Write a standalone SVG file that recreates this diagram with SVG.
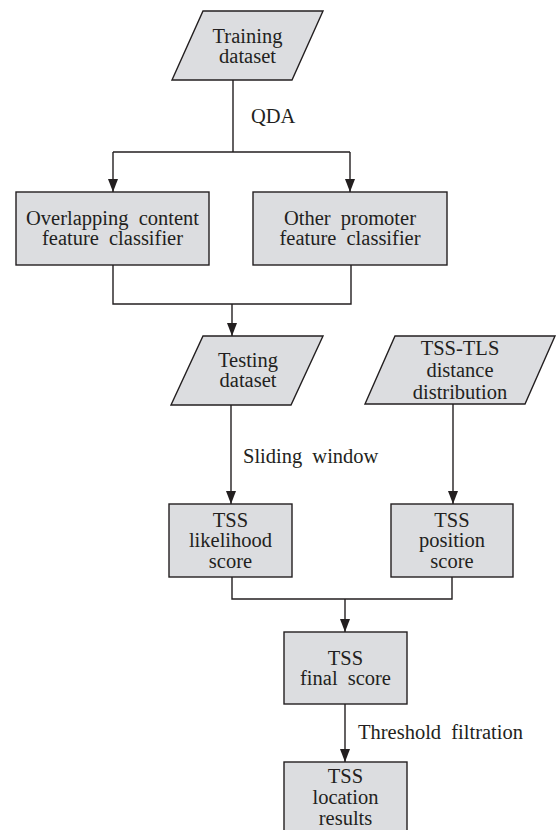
<svg xmlns="http://www.w3.org/2000/svg" width="559" height="830" viewBox="0 0 559 830">
<style>
.shape{fill:#dcdde0;stroke:#231f20;stroke-width:1.4}
.t{font-family:'Liberation Serif','Tinos','Noto Serif','DejaVu Serif',serif;font-size:20.5px;fill:#231f20;text-anchor:middle;word-spacing:5px}
.lbl{font-family:'Liberation Serif','Tinos','Noto Serif','DejaVu Serif',serif;font-size:20.5px;fill:#231f20;word-spacing:5px}
.c{fill:none;stroke:#231f20;stroke-width:1.4}
</style>
<defs>
<marker id="ah" markerUnits="userSpaceOnUse" markerWidth="14" markerHeight="12" refX="13" refY="5" orient="auto">
<path d="M0,0 L13,5 L0,10 Z" fill="#231f20"/>
</marker>
</defs>
<rect width="559" height="830" fill="#fff"/>
<g id="connectors">
<path class="c" d="M233,80 V152 M113,152 H350"/>
<path class="c" d="M113,152 V192" marker-end="url(#ah)"/>
<path class="c" d="M350,152 V192" marker-end="url(#ah)"/>
<path class="c" d="M113,265 V304 H351 V265"/>
<path class="c" d="M232,304 V336" marker-end="url(#ah)"/>
<path class="c" d="M231,405 V504" marker-end="url(#ah)"/>
<path class="c" d="M453,404 V504" marker-end="url(#ah)"/>
<path class="c" d="M232,577 V599 H452 V577"/>
<path class="c" d="M345,599 V632" marker-end="url(#ah)"/>
<path class="c" d="M345,704 V762" marker-end="url(#ah)"/>
<text class="lbl" x="251" y="123">QDA</text>
<text class="lbl" x="243" y="463">Sliding window</text>
<text class="lbl" x="358" y="739">Threshold filtration</text>
</g>
<g id="training">
<polygon class="shape" points="203,11 323,11 292,80 172,80"/>
<text class="t" x="247.5" y="43">Training</text>
<text class="t" x="247.5" y="63">dataset</text>
</g>
<g id="overlap">
<rect class="shape" x="16" y="192" width="193" height="73"/>
<text class="t" x="112.5" y="225">Overlapping content</text>
<text class="t" x="112.5" y="245">feature classifier</text>
</g>
<g id="other">
<rect class="shape" x="253" y="192" width="194" height="73"/>
<text class="t" x="350" y="225">Other promoter</text>
<text class="t" x="350" y="245">feature classifier</text>
</g>
<g id="testing">
<polygon class="shape" points="203,336 323,336 291,405 171,405"/>
<text class="t" x="248" y="367">Testing</text>
<text class="t" x="248" y="387">dataset</text>
</g>
<g id="tsstls">
<polygon class="shape" points="395,336 555,336 525,404 365,404"/>
<text class="t" x="460" y="355">TSS-TLS</text>
<text class="t" x="460" y="377">distance</text>
<text class="t" x="460" y="399">distribution</text>
</g>
<g id="likelihood">
<rect class="shape" x="169" y="504" width="123" height="73"/>
<text class="t" x="230.5" y="527">TSS</text>
<text class="t" x="230.5" y="547">likelihood</text>
<text class="t" x="230.5" y="568">score</text>
</g>
<g id="position">
<rect class="shape" x="391" y="504" width="122" height="73"/>
<text class="t" x="452" y="527">TSS</text>
<text class="t" x="452" y="547">position</text>
<text class="t" x="452" y="568">score</text>
</g>
<g id="final">
<rect class="shape" x="284" y="632" width="123" height="72"/>
<text class="t" x="345.5" y="665">TSS</text>
<text class="t" x="345.5" y="685">final score</text>
</g>
<g id="location">
<rect class="shape" x="284" y="762" width="123" height="80"/>
<text class="t" x="345.5" y="783">TSS</text>
<text class="t" x="345.5" y="804">location</text>
<text class="t" x="345.5" y="825">results</text>
</g>
</svg>
